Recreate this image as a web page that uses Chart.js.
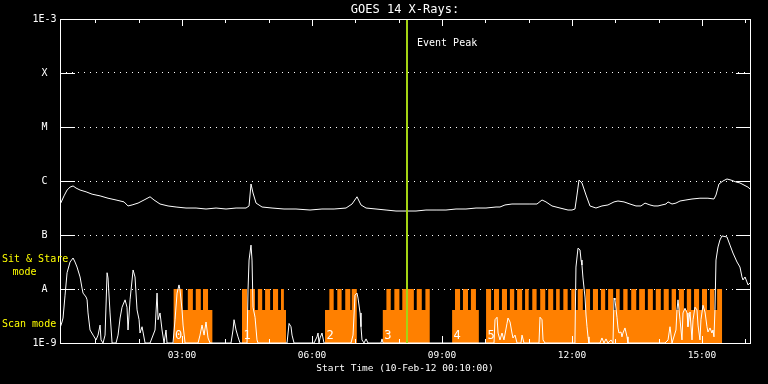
<!DOCTYPE html>
<html>
<head>
<meta charset="utf-8">
<script src="https://cdn.jsdelivr.net/npm/chart.js@4"></script>
<style>
  html, body { margin: 0; padding: 0; background: #000; }
  canvas { display: block; }
</style>
</head>
<body>
<canvas id="goes" width="768" height="384"></canvas>
<script>
// times are minutes after 00:00 on 10-Feb-12, fluxes in W/m^2
const chartTitle = 'GOES 14 X-Rays:';
const xTitle = 'Start Time (10-Feb-12 00:10:00)';
const xMin = 11, xMax = 966.5;
const xTickValues = [180, 360, 540, 720, 900];
const xTickLabels = ['03:00', '06:00', '09:00', '12:00', '15:00'];
const hourTicks = [60, 120, 180, 240, 300, 360, 420, 480, 540, 600, 660, 720, 780, 840, 900, 960];
const yTickValues = [1e-9, 1e-8, 1e-7, 1e-6, 1e-5, 1e-4, 1e-3];
const yTickLabels = ['1E-9', 'A', 'B', 'C', 'M', 'X', '1E-3'];

const eventTime = 491;           // 08:11
const eventLabel = 'Event Peak';

// long channel (1-8 A)
const longT = [12, 16.6, 20.8, 24.9, 29.1, 33.2, 38.8, 47.1, 55.4, 66.5,
  77.5, 88.6, 99.7, 105.2, 110.8, 119.1, 127.4, 135.7, 141.2, 149.5,
  160.6, 171.7, 185.5, 199.4, 213.2, 227.1, 240.9, 254.8, 268.6, 272.8,
  275.5, 278.3, 282.5, 290.8, 304.6, 321.2, 337.8, 357.2, 373.8, 390.5,
  407.1, 415.4, 422.3, 427.8, 434.8, 448.6, 462.5, 476.3, 490.2, 504.0,
  517.8, 531.7, 545.5, 559.4, 573.2, 587.1, 600.9, 614.8, 620.3, 627.2,
  636.9, 648.0, 661.8, 671.5, 678.5, 684.0, 692.3, 703.4, 714.5, 720.0,
  724.1, 726.9, 729.7, 733.8, 739.4, 744.9, 753.2, 761.5, 769.8, 778.2,
  783.7, 792.0, 800.3, 808.6, 815.5, 821.1, 828.0, 833.5, 839.1, 844.6,
  850.2, 852.9, 858.5, 864.0, 869.6, 877.8, 886.2, 897.2, 908.3, 916.6,
  919.4, 923.5, 929.1, 934.6, 940.2, 947.1, 952.6, 958.2, 963.7, 966.5];
const longF = [3.9e-7, 5.3e-7, 6.8e-7, 7.7e-7, 8.1e-7, 7.4e-7, 6.8e-7, 6.3e-7, 5.7e-7, 5.3e-7,
  4.8e-7, 4.45e-7, 4.1e-7, 3.45e-7, 3.6e-7, 3.9e-7, 4.45e-7, 5.1e-7, 4.45e-7, 3.75e-7,
  3.45e-7, 3.3e-7, 3.16e-7, 3.16e-7, 3.03e-7, 3.16e-7, 3.03e-7, 3.16e-7, 3.16e-7, 3.45e-7,
  8.8e-7, 6.0e-7, 3.9e-7, 3.3e-7, 3.16e-7, 3.03e-7, 3.03e-7, 2.9e-7, 3.03e-7, 3.03e-7,
  3.16e-7, 3.75e-7, 5.1e-7, 3.6e-7, 3.16e-7, 3.03e-7, 2.9e-7, 2.78e-7, 2.78e-7, 2.78e-7,
  2.9e-7, 2.9e-7, 2.9e-7, 3.03e-7, 3.03e-7, 3.16e-7, 3.16e-7, 3.3e-7, 3.3e-7, 3.6e-7,
  3.75e-7, 3.75e-7, 3.75e-7, 3.75e-7, 4.45e-7, 4.1e-7, 3.45e-7, 3.16e-7, 2.9e-7, 2.9e-7,
  3.03e-7, 5.5e-7, 1.04e-6, 9.2e-7, 5.5e-7, 3.45e-7, 3.16e-7, 3.45e-7, 3.6e-7, 4.1e-7,
  4.26e-7, 4.1e-7, 3.75e-7, 3.45e-7, 3.45e-7, 3.9e-7, 3.6e-7, 3.45e-7, 3.45e-7, 3.6e-7,
  3.75e-7, 4.1e-7, 3.75e-7, 3.9e-7, 4.26e-7, 4.45e-7, 4.64e-7, 4.8e-7, 4.8e-7, 4.64e-7,
  5.5e-7, 8.8e-7, 1.0e-6, 1.09e-6, 1.04e-6, 9.6e-7, 9.2e-7, 8.4e-7, 7.7e-7, 7.1e-7];

// short channel (0.5-4 A)
const shortT = [11.1, 13.8, 15.2, 18.0, 20.8, 24.9, 29.1, 31.8, 34.6, 38.8,
  41.5, 42.9, 47.1, 48.5, 49.8, 52.6, 56.8, 60.9, 63.7, 66.5,
  67.8, 70.6, 73.4, 76.2, 77.5, 80.3, 83.1, 88.6, 91.4, 94.2,
  96.9, 101.1, 103.8, 105.2, 108.0, 112.2, 114.9, 117.7, 120.5, 121.8,
  124.6, 128.8, 135.7, 142.6, 145.4, 146.8, 149.5, 152.3, 155.1, 157.8,
  159.2, 167.5, 170.3, 173.1, 175.8, 177.2, 180.0, 181.4, 184.2, 202.2,
  204.9, 207.7, 210.5, 213.2, 216.0, 218.8, 247.8, 250.6, 252.0, 254.8,
  257.5, 260.3, 270.0, 271.4, 272.8, 275.5, 276.9, 278.3, 281.1, 283.8,
  285.2, 325.4, 328.2, 330.9, 332.3, 335.1, 362.8, 366.9, 368.3, 369.7,
  371.1, 373.8, 376.6, 414.0, 416.8, 419.5, 422.3, 423.7, 426.5, 427.8,
  429.2, 432.0, 434.8, 437.5, 455.5, 456.9, 458.3, 612.0, 613.4, 616.2,
  617.6, 620.3, 623.1, 625.8, 630.0, 631.4, 634.2, 636.9, 638.3, 641.1,
  643.9, 649.4, 650.8, 653.5, 674.3, 675.7, 678.5, 679.9, 682.6, 722.8,
  724.1, 725.5, 728.3, 731.1, 732.5, 733.8, 735.2, 738.0, 739.4, 740.8,
  742.2, 743.5, 758.8, 761.5, 764.3, 767.1, 769.8, 774.0, 776.8, 778.2,
  779.5, 782.3, 783.7, 785.1, 787.8, 789.2, 790.6, 793.4, 796.2, 797.5,
  848.8, 853.0, 855.7, 858.5, 864.0, 865.4, 866.8, 869.6, 872.3, 873.7,
  876.5, 879.3, 880.6, 883.4, 886.2, 887.6, 890.3, 893.1, 894.5, 897.2,
  898.6, 901.4, 904.2, 906.9, 908.3, 911.1, 913.8, 915.2, 916.6, 918.0,
  919.4, 922.2, 924.9, 927.7, 934.6, 938.8, 942.9, 948.5, 952.6, 955.4,
  956.8, 959.6, 962.3, 963.7, 966.5];
const shortF = [1.9e-9, 2.45e-9, 2.9e-9, 7.7e-9, 2.0e-8, 3.16e-8, 3.75e-8, 3.16e-8, 2.55e-8, 1.67e-8,
  1.04e-8, 8.4e-9, 7.1e-9, 6.3e-9, 3.6e-9, 1.74e-9, 1.4e-9, 1.14e-9, 1.4e-9, 2.15e-9,
  1.14e-9, 1e-9, 1.4e-9, 2.0e-8, 1.6e-8, 3.6e-9, 1e-9, 1e-9, 1.4e-9, 2.9e-9,
  4.6e-9, 6.3e-9, 4.6e-9, 1.74e-9, 6.3e-9, 2.25e-8, 1.67e-8, 4.1e-9, 2.7e-9, 1.53e-9,
  2.0e-9, 1e-9, 1e-9, 1.74e-9, 8.4e-9, 2.7e-9, 3.6e-9, 1.74e-9, 1e-9, 1.74e-9,
  1e-9, 1e-9, 2.7e-9, 8.4e-9, 1.19e-8, 9.6e-9, 4.1e-9, 2.15e-9, 1e-9, 1e-9,
  1.4e-9, 2.15e-9, 1.4e-9, 2.45e-9, 1.24e-9, 1e-9, 1e-9, 1.74e-9, 2.7e-9, 1.74e-9,
  1.3e-9, 1e-9, 1e-9, 9.6e-9, 3.44e-8, 6.5e-8, 3.44e-8, 4.6e-9, 3.0e-9, 1.14e-9,
  1e-9, 1e-9, 2.3e-9, 2.0e-9, 1.4e-9, 1e-9, 1e-9, 1.3e-9, 1.53e-9, 1e-9,
  1.24e-9, 1.53e-9, 1e-9, 1e-9, 1.4e-9, 7.7e-9, 8.4e-9, 6.8e-9, 3.6e-9, 2.0e-9,
  1.14e-9, 1e-9, 1.19e-9, 1e-9, 1e-9, 1.19e-9, 1e-9, 1e-9, 2.7e-9, 3.0e-9,
  1.53e-9, 1.14e-9, 1.53e-9, 1.14e-9, 2.3e-9, 2.9e-9, 2.45e-9, 1.53e-9, 1.24e-9, 1.4e-9,
  1e-9, 1e-9, 1.4e-9, 1e-9, 1e-9, 3.0e-9, 2.7e-9, 1.14e-9, 1e-9, 1e-9,
  1.14e-9, 2.55e-8, 5.7e-8, 5.3e-8, 3.44e-8, 2.78e-8, 1.6e-8, 7.1e-9, 3.3e-9, 2.0e-9,
  1.3e-9, 1e-9, 1e-9, 1.24e-9, 1e-9, 1.19e-9, 1e-9, 1.14e-9, 1e-9, 6.8e-9,
  6.3e-9, 3.0e-9, 1.9e-9, 1.53e-9, 1.6e-9, 1.3e-9, 1.53e-9, 1.9e-9, 1.3e-9, 1e-9,
  1e-9, 1.14e-9, 2.0e-9, 1e-9, 1.74e-9, 4.1e-9, 6.3e-9, 2.7e-9, 1.14e-9, 3.6e-9,
  4.4e-9, 3.6e-9, 2.0e-9, 3.75e-9, 1.14e-9, 2.7e-9, 4.6e-9, 4.1e-9, 2.15e-9, 1.14e-9,
  2.7e-9, 5.0e-9, 3.75e-9, 2.0e-9, 1.6e-9, 1.9e-9, 1.53e-9, 1.74e-9, 1.3e-9, 4.1e-9,
  3.44e-8, 6.0e-8, 8.1e-8, 9.6e-8, 9.2e-8, 6.5e-8, 4.64e-8, 3.16e-8, 2.55e-8, 1.67e-8,
  1.47e-8, 1.67e-8, 1.35e-8, 1.19e-8, 1.29e-8];

// observing mode: 2 = sit & stare, 1 = scan, 0 = none (value holds until next time)
const modeT = [168, 181, 188, 195, 199, 206, 209, 216, 222,
  263, 270, 274, 281, 285, 291, 295, 302, 306, 313, 317, 321, 324,
  378, 384, 390, 395, 401, 406, 413, 415, 422,
  458, 463, 469, 474, 481, 485, 501, 505, 512, 517, 523,
  554, 558, 565, 569, 576, 580, 587, 591,
  601, 608, 612, 619, 623, 630, 634, 640, 644, 651,
  655, 660, 665, 671, 676, 683, 687, 694, 698, 703,
  708, 714, 719, 724, 728, 735, 739, 745, 749, 756,
  760, 766, 770, 777, 781, 786, 791, 797, 802, 809,
  813, 821, 825, 832, 836, 843, 847, 854, 858, 864,
  868, 875, 879, 885, 889, 896, 900, 907, 911, 917,
  921, 928];
const modeC = [2, 1, 2, 1, 2, 1, 2, 1, 0,
  2, 1, 2, 1, 2, 1, 2, 1, 2, 1, 2, 1, 0,
  1, 2, 1, 2, 1, 2, 1, 2, 0,
  1, 2, 1, 2, 1, 2, 1, 2, 1, 2, 0,
  1, 2, 1, 2, 1, 2, 1, 0,
  2, 1, 2, 1, 2, 1, 2, 1, 2, 1,
  2, 1, 2, 1, 2, 1, 2, 1, 2, 1,
  2, 1, 2, 1, 2, 1, 2, 1, 2, 1,
  2, 1, 2, 1, 2, 1, 2, 1, 2, 1,
  2, 1, 2, 1, 2, 1, 2, 1, 2, 1,
  2, 1, 2, 1, 2, 1, 2, 1, 2, 1,
  2, 0];
const modeLevel = [1e-9, 4.1e-9, 1e-8];
const segStarts = [168, 263, 378, 458, 554, 601];
const segLabels = ['0', '1', '2', '3', '4', '5'];

const FONT = '"DejaVu Sans Mono", monospace';
Chart.defaults.font.family = FONT;
Chart.defaults.color = '#fff';

const decor = {
  id: 'decor',
  afterDatasetsDraw(chart) {
    const {ctx, chartArea: a, scales: {x, y}} = chart;
    ctx.save();
    // segment numbers
    ctx.fillStyle = '#fff';
    ctx.font = '12px ' + FONT;
    ctx.textAlign = 'left';
    ctx.textBaseline = 'alphabetic';
    segStarts.forEach((t, i) => ctx.fillText(segLabels[i], x.getPixelForValue(t) + 1.5, 339));

    // event peak line
    const ex = Math.round(x.getPixelForValue(eventTime));
    ctx.fillStyle = '#a4d414';
    ctx.fillRect(ex - 1, a.top, 2, a.bottom - a.top);
    ctx.fillStyle = '#fff';
    ctx.font = '10px ' + FONT;
    ctx.textBaseline = 'middle';
    ctx.fillText(eventLabel, ex + 10, 43);

    // frame and tick marks
    ctx.strokeStyle = '#fff';
    ctx.lineWidth = 1;
    ctx.strokeRect(a.left + 0.5, a.top + 0.5, a.right - a.left, a.bottom - a.top);
    ctx.beginPath();
    hourTicks.forEach(t => {
      const px = Math.round(x.getPixelForValue(t)) + 0.5;
      const len = t % 180 === 0 ? 7 : 4;
      ctx.moveTo(px, a.top); ctx.lineTo(px, a.top + len);
      ctx.moveTo(px, a.bottom); ctx.lineTo(px, a.bottom - len);
    });
    yTickValues.slice(1, -1).forEach(v => {
      const py = Math.round(y.getPixelForValue(v)) + 0.5;
      ctx.moveTo(a.left, py); ctx.lineTo(a.left + 15, py);
      ctx.moveTo(a.right - 14, py); ctx.lineTo(a.right + 1, py);
    });
    ctx.stroke();

    // title
    ctx.font = '12px ' + FONT;
    ctx.textAlign = 'center';
    ctx.fillText(chartTitle, (a.left + a.right) / 2, 10);

    // mode labels
    ctx.fillStyle = '#ffff00';
    ctx.font = '10px ' + FONT;
    ctx.textAlign = 'left';
    ctx.fillText('Sit & Stare', 2, 259);
    ctx.fillText('Scan mode', 2, 324);
    ctx.textAlign = 'center';
    ctx.fillText('mode', 24.5, 272);
    ctx.restore();
  }
};

const toXY = (ts, vs) => ts.map((t, i) => ({x: t, y: vs[i]}));

new Chart(document.getElementById('goes'), {
  type: 'line',
  data: {
    datasets: [
      {
        label: 'long',
        data: toXY(longT, longF),
        borderColor: '#fff', borderWidth: 1, pointRadius: 0, fill: false
      },
      {
        label: 'short',
        data: toXY(shortT, shortF),
        borderColor: '#fff', borderWidth: 1, pointRadius: 0, fill: false
      },
      {
        label: 'mode',
        data: modeT.map((t, i) => ({x: t, y: modeLevel[modeC[i]]})),
        stepped: true,
        borderWidth: 0, borderColor: 'rgba(0,0,0,0)',
        backgroundColor: '#ff8000',
        pointRadius: 0,
        fill: {value: 1e-9}
      }
    ]
  },
  options: {
    responsive: false,
    animation: false,
    layout: {padding: {top: 19, right: 18, left: 0, bottom: 0}},
    plugins: {legend: {display: false}, tooltip: {enabled: false}, title: {display: false}},
    scales: {
      x: {
        type: 'linear',
        min: xMin, max: xMax,
        afterBuildTicks: s => { s.ticks = xTickValues.map(v => ({value: v})); },
        afterFit: s => { s.height = 41; },
        grid: {display: false, drawTicks: false},
        border: {display: false},
        ticks: {
          autoSkip: false, maxRotation: 0, padding: 6.5,
          color: '#fff', font: {size: 9.5},
          callback: (v, i) => xTickLabels[i]
        },
        title: {
          display: true, text: xTitle, color: '#fff',
          font: {size: 9.5}, padding: {top: 0, bottom: 9.5}
        }
      },
      y: {
        type: 'logarithmic',
        min: 1e-9, max: 1e-3,
        afterBuildTicks: s => { s.ticks = yTickValues.map(v => ({value: v})); },
        afterFit: s => { s.width = 60; },
        grid: {
          drawTicks: false,
          color: c => (c.index === 0 || c.index === yTickValues.length - 1) ? 'rgba(0,0,0,0)' : '#fff',
          lineWidth: 1
        },
        border: {display: false, dash: [1, 5]},
        ticks: {
          crossAlign: 'center', padding: 3.5,
          color: '#fff', font: {size: 10},
          callback: (v, i) => yTickLabels[i]
        }
      }
    }
  },
  plugins: [decor]
});
</script>
</body>
</html>
